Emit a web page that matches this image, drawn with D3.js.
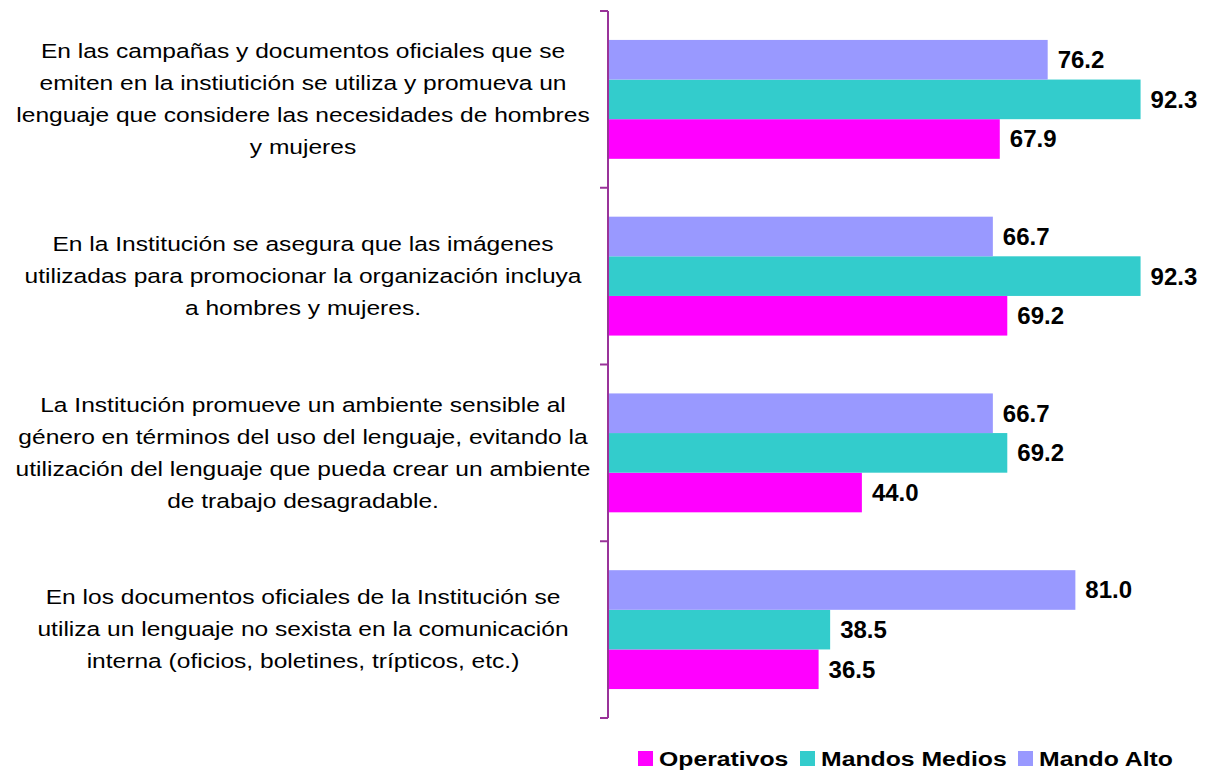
<!DOCTYPE html>
<html>
<head>
<meta charset="utf-8">
<script src="https://cdn.jsdelivr.net/npm/d3@7"></script>
<style>
  body { margin: 0; background: #fff; }
  svg { font-family: Arial, "Liberation Sans", sans-serif; }
</style>
</head>
<body>
<div id="chart"></div>
<script>
const width = 1212;
const height = 770;

// categories, top to bottom (lines as wrapped in the original)
const categories = [
    ["En las campañas y documentos oficiales que se",
     "emiten en la instiutición se utiliza y promueva un",
     "lenguaje que considere las necesidades de hombres",
     "y mujeres"],
    ["En la Institución se asegura que las imágenes",
     "utilizadas para promocionar la organización incluya",
     "a hombres y mujeres."],
    ["La Institución promueve un ambiente sensible al",
     "género en términos del uso del lenguaje, evitando la",
     "utilización del lenguaje que pueda crear un ambiente",
     "de trabajo desagradable."],
    ["En los documentos oficiales de la Institución se",
     "utiliza un lenguaje no sexista en la comunicación",
     "interna (oficios, boletines, trípticos, etc.)"]
];

const seriesNames = ["Operativos", "Mandos Medios", "Mando Alto"];
const operativos = [67.9, 69.2, 44.0, 36.5];
const mandosMedios = [92.3, 92.3, 69.2, 38.5];
const mandoAlto = [76.2, 66.7, 66.7, 81.0];
const colors = ["#ff00ff", "#33cccc", "#9999ff"];

const seriesValues = [operativos, mandosMedios, mandoAlto];
const rows = categories.map((c, i) => ({
    idx: i,
    lines: c,
    values: seriesNames.map((s, j) => ({ series: s, value: seriesValues[j][i] }))
}));

const svg = d3.select("#chart")
    .append("svg")
    .attr("width", width)
    .attr("height", height);

// Scales
const xScale = d3.scaleLinear()
    .domain([0, 100])
    .range([608, 1185]);

const yScale = d3.scaleBand()
    .domain(d3.range(categories.length))
    .range([11, 718])
    .padding(0);

// bars inside a band: Mando Alto on top, Operativos at the bottom
const ySub = d3.scaleBand()
    .domain(seriesNames.slice().reverse())
    .range([0, yScale.bandwidth()])
    .paddingInner(0)
    .paddingOuter(0.73);

const color = d3.scaleOrdinal().domain(seriesNames).range(colors);

// Bars
const groups = svg.selectAll(".cat")
    .data(rows)
    .enter()
    .append("g")
    .attr("class", "cat")
    .attr("transform", d => `translate(0,${yScale(d.idx)})`);

groups.selectAll("rect")
    .data(d => d.values)
    .enter()
    .append("rect")
    .attr("x", xScale(0))
    .attr("y", d => ySub(d.series))
    .attr("width", d => xScale(d.value) - xScale(0))
    .attr("height", ySub.bandwidth())
    .attr("fill", d => color(d.series));

// Value labels
groups.selectAll(".val")
    .data(d => d.values)
    .enter()
    .append("text")
    .attr("class", "val")
    .attr("x", d => xScale(d.value) + 10)
    .attr("y", d => ySub(d.series) + ySub.bandwidth() / 2)
    .attr("dy", "0.35em")
    .attr("font-size", 24)
    .attr("font-weight", "bold")
    .attr("fill", "#000")
    .text(d => d.value.toFixed(1));

// Axis (no labels, tick marks between categories)
const axisG = svg.append("g")
    .attr("transform", `translate(${xScale(0)},0)`);

axisG.append("line")
    .attr("x1", 0).attr("x2", 0)
    .attr("y1", yScale.range()[0]).attr("y2", yScale.range()[1])
    .attr("stroke", "#993399")
    .attr("stroke-width", 2);

const tickPos = d3.range(categories.length + 1).map(i => yScale.range()[0] + i * yScale.step());
axisG.selectAll(".tick")
    .data(tickPos)
    .enter()
    .append("line")
    .attr("class", "tick")
    .attr("x1", -8).attr("x2", 0)
    .attr("y1", d => d).attr("y2", d => d)
    .attr("stroke", "#993399")
    .attr("stroke-width", 2);

// Category labels (the original text is a bit wider than Arial)
const lineH = 32;
groups.append("g")
    .attr("transform", d => `translate(303,${yScale.bandwidth() / 2}) scale(1.26,1)`)
    .append("text")
    .attr("text-anchor", "middle")
    .attr("font-size", 19.5)
    .attr("fill", "#000")
    .selectAll("tspan")
    .data(d => d.lines.map((l, k) => ({ l, k, n: d.lines.length })))
    .enter()
    .append("tspan")
    .attr("x", 0)
    .attr("y", d => (d.k - (d.n - 1) / 2) * lineH)
    .attr("dy", "0.35em")
    .text(d => d.l);

// Legend
const legendX = [638, 800, 1018];
const legend = svg.selectAll(".legend")
    .data(seriesNames)
    .enter()
    .append("g")
    .attr("class", "legend")
    .attr("transform", (d, i) => `translate(${legendX[i]},751)`);

legend.append("rect")
    .attr("width", 15)
    .attr("height", 15)
    .attr("fill", d => color(d));

legend.append("g")
    .attr("transform", "translate(21,8) scale(1.18,1)")
    .append("text")
    .attr("dy", "0.35em")
    .attr("font-size", 21)
    .attr("font-weight", "bold")
    .text(d => d);
</script>
</body>
</html>
